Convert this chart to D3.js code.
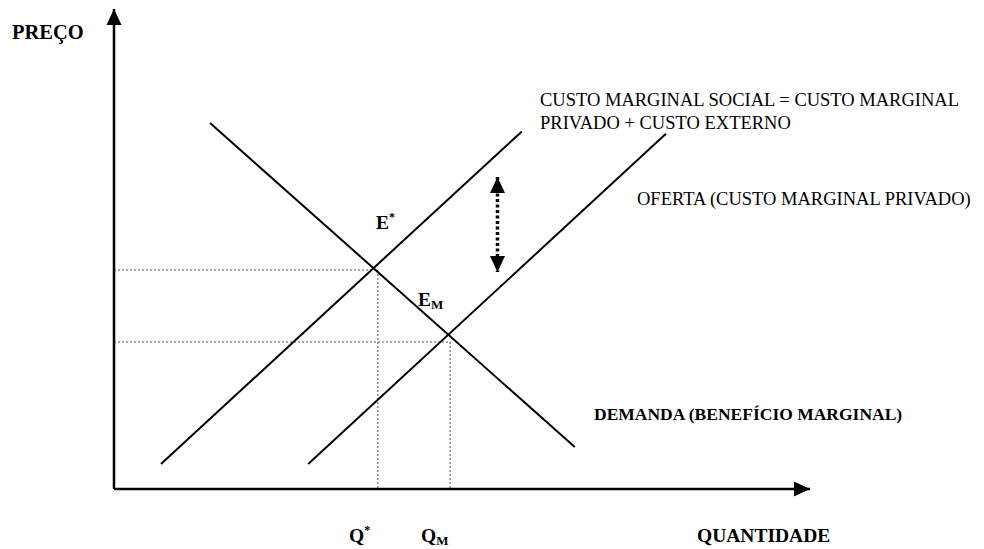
<!DOCTYPE html>
<html>
<head>
<meta charset="utf-8">
<script src="https://cdn.jsdelivr.net/npm/d3@7"></script>
<style>
  html, body { margin: 0; padding: 0; background: #fff; }
  svg text { font-family: "Liberation Serif", "Times New Roman", serif; fill: #000; }
</style>
</head>
<body>
<div id="main"></div>
<script>
// axis domains (quantity, price) in arbitrary units
var qDomain = [0, 100];
var pDomain = [0, 100];

// curves: [start, end] as [quantity, price]
var demanda = [[13.8, 76.25], [66.2, 8.75]];
var custoSocial = [[6.75, 5.2], [58.6, 74.5]];
var oferta = [[27.9, 5.2], [79.3, 74.0]];

// equilibria
var eqSocial = [37.9, 45.6];   // E*
var eqMercado = [48.3, 30.6];  // E_M

// externality gap (quantity, price from, price to)
var externo = [55.1, 65, 45.2];

var labels = {
  yAxis: 'PREÇO',
  xAxis: 'QUANTIDADE',
  social: ['CUSTO MARGINAL SOCIAL = CUSTO MARGINAL', 'PRIVADO + CUSTO EXTERNO'],
  oferta: 'OFERTA (CUSTO MARGINAL PRIVADO)',
  demanda: 'DEMANDA (BENEFÍCIO MARGINAL)'
};

function Sketch() {
  this.width = 984;
  this.height = 549;
}

Sketch.prototype.init = function() {
  this.svg = d3.select('#main')
    .append('svg')
    .attr('width', this.width)
    .attr('height', this.height);

  this.x = d3.scaleLinear().domain(qDomain).range([114, 810]);
  this.y = d3.scaleLinear().domain(pDomain).range([489, 9]);
};

Sketch.prototype.render = function() {
  var x = this.x, y = this.y, svg = this.svg;
  var line = d3.line()
    .x(function(d) { return x(d[0]); })
    .y(function(d) { return y(d[1]); });

  // guide lines
  var guides = svg.append('g')
    .attr('stroke', '#8c8c8c')
    .attr('stroke-width', 1.5)
    .attr('stroke-dasharray', '2,2');

  [eqSocial, eqMercado].forEach(function(e) {
    guides.append('path').attr('d', line([[qDomain[0], e[1]], e]));
    guides.append('path').attr('d', line([e, [e[0], pDomain[0]]]));
  });

  // curves
  svg.selectAll('path.curve')
    .data([demanda, custoSocial, oferta])
    .enter()
    .append('path')
    .attr('class', 'curve')
    .attr('d', line)
    .attr('fill', 'none')
    .attr('stroke', '#000')
    .attr('stroke-width', 2);

  // axes
  svg.append('path')
    .attr('d', line([[qDomain[0], pDomain[0]], [qDomain[0], pDomain[1]]]))
    .attr('stroke', '#000')
    .attr('stroke-width', 2.5);
  svg.append('path')
    .attr('d', line([[qDomain[0], pDomain[0]], [qDomain[1], pDomain[0]]]))
    .attr('stroke', '#000')
    .attr('stroke-width', 2.5);

  function tri(px, py, dir, w, h) {
    // dir: 'up', 'down', 'right'
    if (dir === 'up') return 'M' + px + ',' + py + 'L' + (px - w / 2) + ',' + (py + h) + 'L' + (px + w / 2) + ',' + (py + h) + 'Z';
    if (dir === 'down') return 'M' + px + ',' + py + 'L' + (px - w / 2) + ',' + (py - h) + 'L' + (px + w / 2) + ',' + (py - h) + 'Z';
    return 'M' + px + ',' + py + 'L' + (px - h) + ',' + (py - w / 2) + 'L' + (px - h) + ',' + (py + w / 2) + 'Z';
  }

  svg.append('path').attr('d', tri(x(qDomain[0]), y(pDomain[1]), 'up', 15, 16));
  svg.append('path').attr('d', tri(x(qDomain[1]), y(pDomain[0]), 'right', 15, 16));

  // externality double arrow
  var ax = x(externo[0]);
  svg.append('path')
    .attr('d', line([[externo[0], externo[1]], [externo[0], externo[2]]]))
    .attr('stroke', '#000')
    .attr('stroke-width', 3.5)
    .attr('stroke-dasharray', '3,2.5');
  svg.append('path').attr('d', tri(ax, y(externo[1]), 'up', 15, 16));
  svg.append('path').attr('d', tri(ax, y(externo[2]), 'down', 15, 16));

  // labels
  svg.append('text')
    .attr('x', 12).attr('y', 39)
    .attr('font-weight', 'bold').attr('font-size', 20.5)
    .text(labels.yAxis);

  svg.append('text')
    .attr('x', 697).attr('y', 542)
    .attr('font-weight', 'bold').attr('font-size', 19.5)
    .text(labels.xAxis);

  var eS = svg.append('text')
    .attr('x', 376).attr('y', 229)
    .attr('font-weight', 'bold').attr('font-size', 19.5);
  eS.append('tspan').text('E');
  eS.append('tspan').attr('font-size', 12).attr('dy', -8).text('*');

  var eM = svg.append('text')
    .attr('x', 418).attr('y', 306)
    .attr('font-weight', 'bold').attr('font-size', 19.5);
  eM.append('tspan').text('E');
  eM.append('tspan').attr('font-size', 13).attr('dy', 3).text('M');

  var qS = svg.append('text')
    .attr('x', 349).attr('y', 542)
    .attr('font-weight', 'bold').attr('font-size', 19.5);
  qS.append('tspan').text('Q');
  qS.append('tspan').attr('font-size', 12).attr('dy', -8).text('*');

  var qM = svg.append('text')
    .attr('x', 421).attr('y', 542)
    .attr('font-weight', 'bold').attr('font-size', 19.5);
  qM.append('tspan').text('Q');
  qM.append('tspan').attr('font-size', 13).attr('dy', 3).text('M');

  svg.selectAll('text.social')
    .data(labels.social)
    .enter()
    .append('text')
    .attr('class', 'social')
    .attr('x', 540)
    .attr('y', function(d, i) { return 106 + i * 23; })
    .attr('font-size', 18.5)
    .text(function(d) { return d; });

  svg.append('text')
    .attr('x', 637).attr('y', 205)
    .attr('font-size', 18.5)
    .text(labels.oferta);

  svg.append('text')
    .attr('x', 594).attr('y', 420)
    .attr('font-weight', 'bold').attr('font-size', 17.5)
    .text(labels.demanda);
};

document.addEventListener('DOMContentLoaded', function() {
  var s = new Sketch();
  s.init();
  s.render();
});
</script>
</body>
</html>
